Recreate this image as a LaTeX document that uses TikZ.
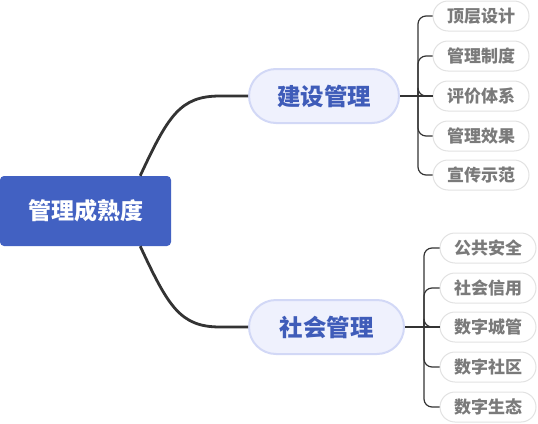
\documentclass[tikz,border=0pt]{standalone}
\usepackage{fontspec}
\setmainfont{Noto Sans CJK SC}
\usetikzlibrary{calc}

\definecolor{rootblue}{HTML}{4261C2}
\definecolor{midfill}{HTML}{EFF1FD}
\definecolor{midline}{HTML}{D2D8F6}
\definecolor{midtext}{HTML}{3F5CB9}
\definecolor{leafline}{HTML}{E2E2E2}
\definecolor{leaftext}{HTML}{7A7A7A}
\definecolor{linkgray}{HTML}{333333}

\tikzset{
    rootbox/.style={fill=rootblue, rounded corners=4pt, minimum width=171pt,
        minimum height=70pt, text=white, inner sep=0pt,
        font=\bfseries\fontsize{23}{23}\selectfont},
    midpill/.style={fill=midfill, draw=midline, line width=2pt,
        rounded corners=27pt, minimum height=54pt, inner sep=0pt,
        text=midtext, font=\bfseries\fontsize{23.5}{23.5}\selectfont},
    leafpill/.style={fill=white, draw=leafline, line width=1pt,
        rounded corners=15pt, minimum height=30pt, minimum width=96pt,
        inner sep=0pt, text=leaftext, font=\bfseries\fontsize{17}{17}\selectfont},
    link/.style={draw=linkgray, line width=2.8pt},
    twig/.style={draw=linkgray, line width=1.2pt, rounded corners=8pt},
}

\begin{document}
\begin{tikzpicture}[x=1pt, y=-1pt]
    \useasboundingbox (0,0) rectangle (538,423);

    \node[rootbox] (root) at (85.5,211) {管理成熟度};
    \node[midpill, minimum width=150pt] (build) at (324,96) {建设管理};
    \node[midpill, minimum width=155pt] (social) at (326.5,327) {社会管理};

    % main branches
    \draw[link] ([xshift=-31pt]root.north east) .. controls +(28,-60) and +(-40,0) .. ([xshift=-28pt]build.west) -- (build.west);
    \draw[link] ([xshift=-31pt]root.south east) .. controls +(28,60) and +(-40,0) .. ([xshift=-28pt]social.west) -- (social.west);

    % leaves of the first branch
    \foreach \name/\txt/\y in {a1/顶层设计/16, a2/管理制度/56, a3/评价体系/96, a4/管理效果/136, a5/宣传示范/175} {
        \node[leafpill] (\name) at (481,\y) {\txt};
        \draw[twig] (\name.west) -| (418,96);
    }
    \draw[twig] (build.east) -- (a3.west);

    % leaves of the second branch
    \foreach \name/\txt/\y in {b1/公共安全/248, b2/社会信用/288, b3/数字城管/327, b4/数字社区/367, b5/数字生态/407} {
        \node[leafpill] (\name) at (488,\y) {\txt};
        \draw[twig] (\name.west) -| (424,327);
    }
    \draw[twig] (social.east) -- (b3.west);
\end{tikzpicture}
\end{document}
